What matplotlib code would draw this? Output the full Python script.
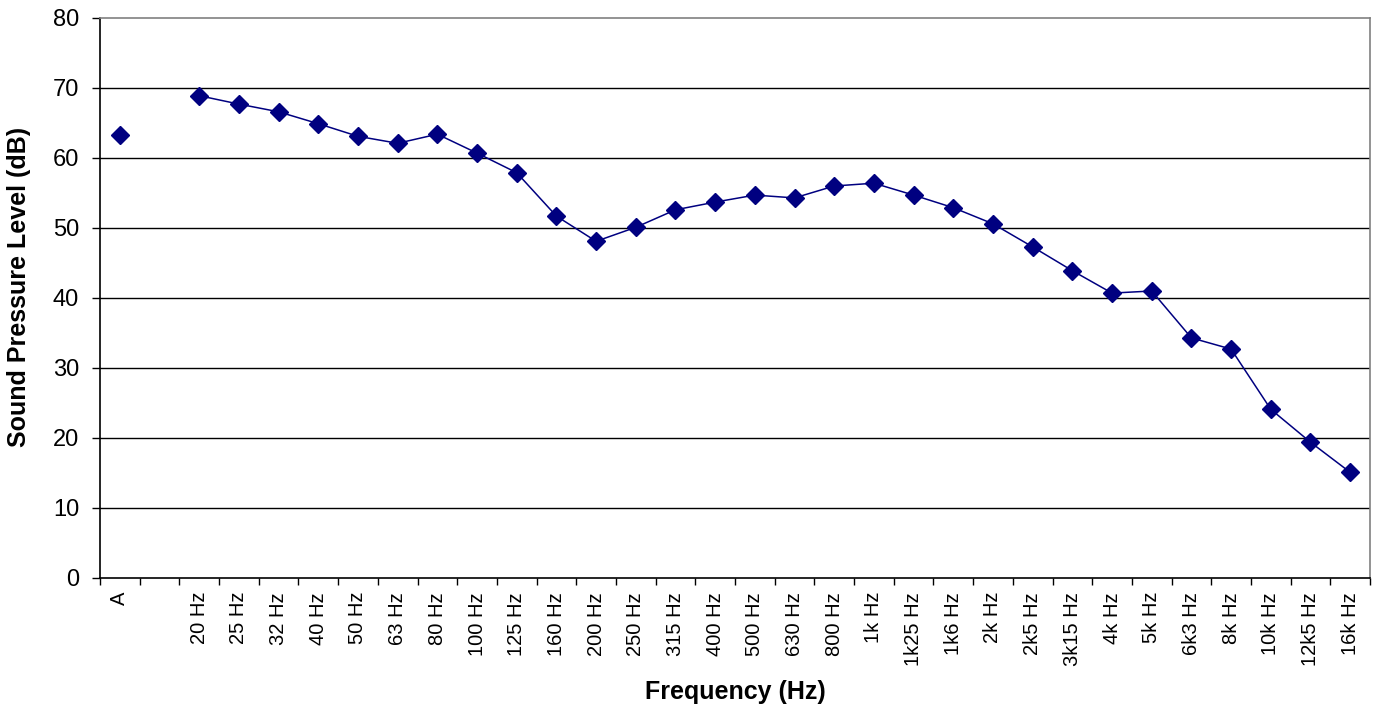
import numpy as np
import matplotlib
matplotlib.use('Agg')
import matplotlib.pyplot as plt
from matplotlib.ticker import FixedLocator

# Data
bands = ['A', '', '20 Hz', '25 Hz', '32 Hz', '40 Hz', '50 Hz', '63 Hz', '80 Hz',
         '100 Hz', '125 Hz', '160 Hz', '200 Hz', '250 Hz', '315 Hz', '400 Hz',
         '500 Hz', '630 Hz', '800 Hz', '1k Hz', '1k25 Hz', '1k6 Hz', '2k Hz',
         '2k5 Hz', '3k15 Hz', '4k Hz', '5k Hz', '6k3 Hz', '8k Hz', '10k Hz',
         '12k5 Hz', '16k Hz']
spl = [63.3, np.nan, 68.9, 67.7, 66.6, 64.9, 63.1, 62.1, 63.4,
       60.7, 57.9, 51.7, 48.1, 50.1, 52.6, 53.7,
       54.7, 54.3, 56.0, 56.4, 54.7, 52.9, 50.6,
       47.3, 43.9, 40.7, 41.0, 34.3, 32.7, 24.1,
       19.4, 15.1]
y_ticks = [0, 10, 20, 30, 40, 50, 60, 70, 80]

plt.rcParams['font.family'] = ['Liberation Sans', 'DejaVu Sans']

fig = plt.figure(figsize=(13.76, 7.11), dpi=100)
ax = fig.add_axes([100/1376, 133/711, 1270/1376, 560/711])

x = np.arange(len(bands))
ax.plot(x, spl, color='#000080', lw=1.1, marker='D', ms=9, zorder=3)

ax.set_xlim(-0.5, len(bands) - 0.5)
ax.set_ylim(0, 80)
ax.set_yticks(y_ticks)
ax.tick_params(axis='y', labelsize=17, length=6, width=1, direction='out', pad=9)

ax.set_xticks(x)
ax.set_xticklabels(bands, rotation=90, fontsize=14.5)
ax.tick_params(axis='x', which='major', length=0, pad=10)
ax.xaxis.set_minor_locator(FixedLocator(np.arange(-0.5, len(bands), 1.0)))
ax.tick_params(axis='x', which='minor', length=5, width=1, direction='out')

for v in y_ticks[1:-1]:
    ax.axhline(v, color='black', lw=1, zorder=1)

ax.spines['left'].set_color('black')
ax.spines['bottom'].set_color('black')
ax.spines['top'].set_color('#808080')
ax.spines['right'].set_color('#808080')
for s in ax.spines.values():
    s.set_linewidth(1.2)

ax.set_xlabel('Frequency (Hz)', fontsize=18, fontweight='bold', labelpad=10)
ax.set_ylabel('Sound Pressure Level (dB)', fontsize=18, fontweight='bold')
ax.yaxis.set_label_coords(-0.054, 0.52)

fig.savefig('out.png', dpi=100)
